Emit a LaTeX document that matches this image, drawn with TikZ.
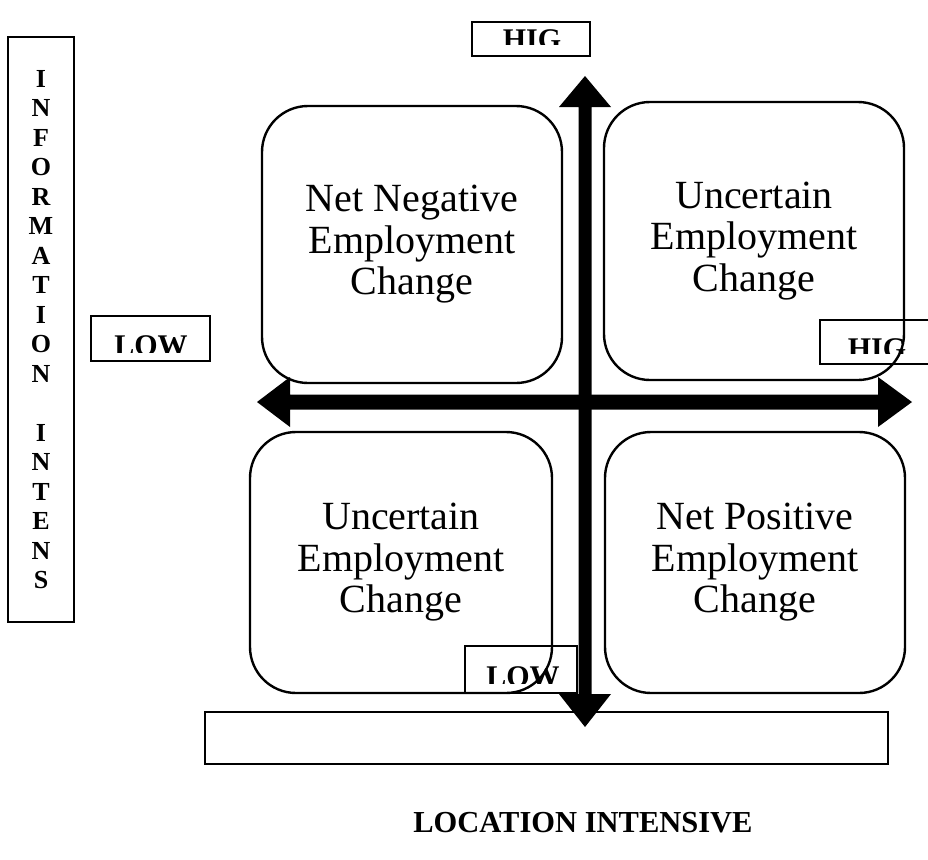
\documentclass[tikz,border=0pt]{standalone}
\usepackage{fontspec}
\setmainfont{Liberation Serif}
\begin{document}
\begin{tikzpicture}[x=1pt,y=-1pt,
  rbox/.style={draw, line width=2.4pt, rounded corners=46pt, align=center,
    font=\fontsize{40}{41.5}\selectfont, inner sep=0pt},
  lblbox/.style={draw, line width=2pt, inner sep=0pt},
  lbltext/.style={font=\bfseries\fontsize{30}{30}\selectfont, inner sep=0pt, anchor=north},
  axis/.style={fill=black}
]
\useasboundingbox (0,0) rectangle (928,859);

% tall left box with vertical title
\node[lblbox, line width=2.4pt, minimum width=66pt, minimum height=585pt] (vbox) at (41,329.5) {};
\node[font=\bfseries\fontsize{26}{29.5}\selectfont, align=center, inner sep=0pt] (vtitle) at (vbox.center)
  {I\\N\\F\\O\\R\\M\\A\\T\\I\\O\\N\\\mbox{}\\I\\N\\T\\E\\N\\S};

% bottom long box
\node[lblbox, minimum width=683pt, minimum height=52pt] (hbox) at (546.5,738) {};

% quadrant boxes
\node[rbox, minimum width=300pt, minimum height=277pt] (tl) at (412,244.5) {Net Negative\\Employment\\Change};
\node[rbox, minimum width=300pt, minimum height=278pt] (tr) at (754,241) {Uncertain\\Employment\\Change};
\node[rbox, minimum width=302pt, minimum height=261pt] (bl) at (401,562.5) {Uncertain\\Employment\\Change};
\node[rbox, minimum width=300pt, minimum height=261pt] (br) at (755,562.5) {Net Positive\\Employment\\Change};

% axes
\coordinate (vtop) at (585,76);
\coordinate (hleft) at (257,402);
\fill[axis] (vtop) -- (611,107) -- (591.5,107) -- (591.5,694) -- (611,694) -- (585,727)
  -- (559,694) -- (578.5,694) -- (578.5,107) -- (559,107) -- cycle;
\fill[axis] (hleft) -- (290,377) -- (290,394.5) -- (878,394.5) -- (878,377) -- (912,402)
  -- (878,427) -- (878,409.5) -- (290,409.5) -- (290,427) -- cycle;

% label boxes (text cut off at the bottom)
\node[lblbox, minimum width=118pt, minimum height=34pt] (hightop) at (531,39) {};
\begin{scope}
  \clip (472,20) rectangle (590,45);
  \node[lbltext] (hightoptext) at (532,29) {HIG};
\end{scope}

\node[lblbox, minimum width=119pt, minimum height=45pt] (lowleft) at (150.5,338.5) {};
\begin{scope}
  \clip (91,316) rectangle (210,352);
  \node[lbltext] (lowlefttext) at (151,335) {LOW};
\end{scope}

\node[lblbox, minimum width=130pt, minimum height=44pt] (highright) at (885,342) {};
\begin{scope}
  \clip (820,320) rectangle (928,353);
  \node[lbltext] (highrighttext) at (877,338) {HIG};
\end{scope}

\node[lblbox, minimum width=112pt, minimum height=47pt] (lowbottom) at (521,669.5) {};
\begin{scope}
  \clip (465,646) rectangle (577,683);
  \node[lbltext] (lowbottomtext) at (523,666) {LOW};
\end{scope}

% bottom title
\node[font=\bfseries\fontsize{30.5}{30.5}\selectfont, inner sep=0pt] (xtitle) at (583,823) {LOCATION INTENSIVE};
\end{tikzpicture}
\end{document}
